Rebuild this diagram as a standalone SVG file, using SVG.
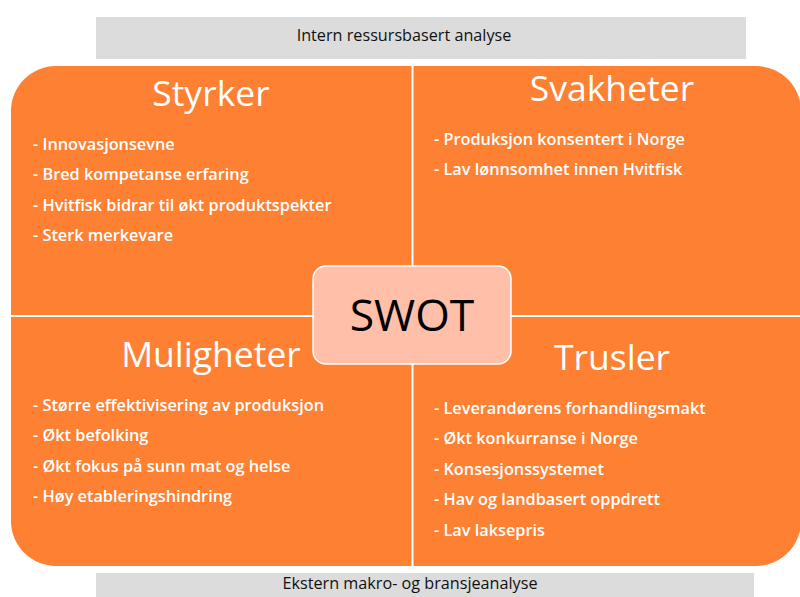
<svg xmlns="http://www.w3.org/2000/svg" width="800" height="597" viewBox="0 0 800 597">
<style>
.bar{fill:#dcdcdc}
.bartxt{font-family:"Open Sans","Liberation Sans",sans-serif;font-size:16.2px;fill:#111;text-anchor:middle}
.q{fill:#fd8033}
.head{font-family:"Open Sans","Liberation Sans",sans-serif;font-size:35.5px;fill:#fff;text-anchor:middle}
.item{font-family:"Open Sans","Liberation Sans",sans-serif;font-size:16.3px;font-weight:600;fill:#fff}
.center{fill:#ffbfa8;stroke:#fff;stroke-width:1.5}
.ctxt{font-family:"Open Sans","Liberation Sans",sans-serif;font-size:44.5px;fill:#000;text-anchor:middle}
</style>
<rect width="800" height="597" fill="#fff"/>
<g id="top-bar">
<rect class="bar" x="96" y="17" width="650" height="42"/>
<text class="bartxt" x="404" y="41">Intern ressursbasert analyse</text>
</g>
<g id="bottom-bar">
<rect class="bar" x="96" y="573" width="658" height="24"/>
<text class="bartxt" x="410" y="589">Ekstern makro- og bransjeanalyse</text>
</g>
<g id="styrker">
<path class="q" d="M11,315 V111 A45,45 0 0 1 56,66 H411.5 V315 Z"/>
<text class="head" x="211" y="106">Styrker</text>
<text class="item" x="33" y="150">- Innovasjonsevne</text>
<text class="item" x="33" y="180">- Bred kompetanse erfaring</text>
<text class="item" x="33" y="211">- Hvitfisk bidrar til økt produktspekter</text>
<text class="item" x="33" y="241">- Sterk merkevare</text>
</g>
<g id="svakheter">
<path class="q" d="M413.5,66 H756 A45,45 0 0 1 801,111 V315 H413.5 Z"/>
<text class="head" x="612" y="101">Svakheter</text>
<text class="item" x="434" y="145">- Produksjon konsentert i Norge</text>
<text class="item" x="434" y="175">- Lav lønnsomhet innen Hvitfisk</text>
</g>
<g id="muligheter">
<path class="q" d="M11,317 H411.5 V566 H56 A45,45 0 0 1 11,521 Z"/>
<text class="head" x="211" y="367">Muligheter</text>
<text class="item" x="33" y="411">- Større effektivisering av produksjon</text>
<text class="item" x="33" y="441">- Økt befolking</text>
<text class="item" x="33" y="472">- Økt fokus på sunn mat og helse</text>
<text class="item" x="33" y="502">- Høy etableringshindring</text>
</g>
<g id="trusler">
<path class="q" d="M413.5,317 H801 V521 A45,45 0 0 1 756,566 H413.5 Z"/>
<text class="head" x="612" y="370">Trusler</text>
<text class="item" x="434" y="414">- Leverandørens forhandlingsmakt</text>
<text class="item" x="434" y="444">- Økt konkurranse i Norge</text>
<text class="item" x="434" y="475">- Konsesjonssystemet</text>
<text class="item" x="434" y="505">- Hav og landbasert oppdrett</text>
<text class="item" x="434" y="536">- Lav laksepris</text>
</g>
<g id="swot">
<rect class="center" x="313" y="266" width="198" height="98" rx="13"/>
<text class="ctxt" x="412" y="331">SWOT</text>
</g>
<g id="connectors"/>
</svg>
